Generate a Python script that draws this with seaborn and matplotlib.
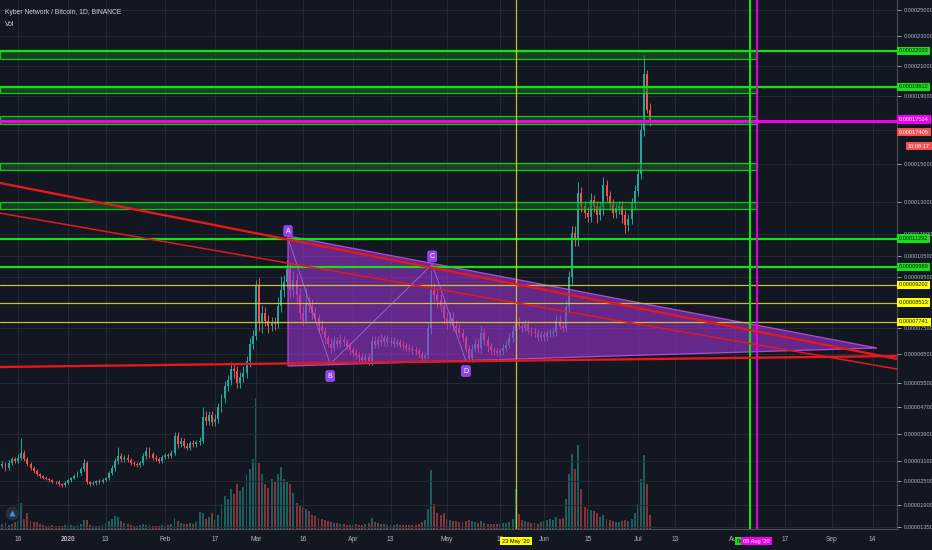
import numpy as np
import pandas as pd
import matplotlib
matplotlib.use("Agg")
import matplotlib.pyplot as plt
import matplotlib.dates as mdates
from matplotlib.colors import to_rgba
from matplotlib.patches import Polygon, Rectangle
import seaborn as sns

# KNC/BTC daily candles, prices in satoshi (1e-8 BTC), first candle 2019-12-10
first_day = "2019-12-10"
first_open = 2900
close = [2950, 3000, 2900, 3050, 3150, 3100, 3200, 3330, 3150, 3000,
         2900, 2800, 2700, 2650, 2600, 2550, 2520, 2480, 2470, 2420,
         2400, 2450, 2520, 2590, 2660, 2750, 2860, 3040, 2470, 2430,
         2460, 2500, 2480, 2540, 2580, 2740, 2900, 3100, 3250, 3150,
         3200, 3130, 3050, 3000, 2980, 3050, 3250, 3400, 3300, 3200,
         3150, 3100, 3220, 3280, 3250, 3350, 3850, 3600, 3700, 3550,
         3500, 3620, 3600, 3650, 3700, 4400, 4300, 4450, 4250, 4350,
         4700, 5000, 5400, 5600, 6000, 5900, 5500, 5700, 5850, 6250,
         6900, 7200, 9200, 7700, 8100, 7800, 7600, 7700, 7650, 8400,
         9000, 9300, 9900, 9000, 9400, 8800, 8100, 7800, 8500, 8400,
         8100, 7900, 7600, 7400, 7100, 6900, 6750, 7000, 6900, 7050,
         6950, 6800, 6650, 6550, 6450, 6400, 6300, 6400, 6250, 7000,
         6850, 7050, 6950, 7100, 6950, 7000, 6900, 6950, 6850, 6800,
         6750, 6700, 6650, 6600, 6500, 6350, 6450, 7500, 9000, 8800,
         8600, 8400, 7900, 7700, 7900, 7600, 7500, 7300, 7100, 6700,
         6350, 6700, 6900, 6750, 7300, 7050, 6800, 6650, 6600, 6550,
         6600, 6750, 6850, 7100, 7400, 7700, 7600, 7500, 7650, 7400,
         7350, 7300, 7150, 7250, 7150, 7300, 7300, 7350, 7800, 7600,
         7500, 8350, 9500, 11550, 11300, 13500, 12800, 12500, 12300, 13100,
         12800, 12400, 12750, 13900, 13300, 12900, 12500, 12700, 12800, 12400,
         11900, 12200, 12950, 13600, 14500, 17000, 20500, 18200, 17405]
# wick length above / below the body, percent
wick_up = [2, 3, 2, 3, 2, 2, 3, 14, 3, 2,
           2, 2, 2, 2, 1, 2, 1, 2, 1, 2,
           1, 2, 2, 1, 2, 2, 2, 4, 2, 1,
           2, 1, 2, 2, 2, 2, 3, 3, 8, 3,
           2, 3, 2, 2, 2, 2, 3, 3, 3, 2,
           2, 2, 2, 2, 2, 2, 3, 3, 3, 2,
           2, 2, 3, 2, 3, 7, 4, 3, 3, 3,
           3, 3, 3, 3, 4, 3, 3, 3, 4, 3,
           3, 3, 2, 3, 4, 3, 3, 3, 3, 4,
           6, 3, 4, 3, 4, 3, 3, 4, 7, 3,
           3, 3, 2, 3, 2, 2, 3, 3, 2, 3,
           2, 2, 2, 2, 2, 2, 2, 2, 2, 3,
           3, 2, 3, 2, 2, 2, 2, 2, 2, 2,
           2, 2, 2, 2, 2, 2, 2, 3, 9, 3,
           3, 3, 3, 3, 3, 3, 3, 2, 2, 2,
           2, 3, 3, 3, 4, 3, 2, 2, 2, 2,
           2, 2, 3, 3, 3, 3, 3, 2, 3, 2,
           2, 2, 2, 2, 2, 2, 2, 2, 3, 3,
           2, 3, 3, 3, 3, 4, 2, 2, 2, 3,
           2, 2, 2, 3, 2, 2, 2, 2, 2, 2,
           2, 2, 2, 2, 2, 3, 6, 1, 2]
wick_dn = [2, 2, 3, 2, 2, 2, 2, 2, 2, 2,
           2, 2, 2, 2, 2, 1, 2, 1, 2, 2,
           2, 2, 1, 2, 1, 2, 2, 2, 2, 2,
           1, 2, 2, 1, 2, 2, 2, 3, 3, 3,
           3, 2, 2, 2, 2, 2, 2, 3, 3, 2,
           2, 2, 2, 2, 2, 2, 2, 3, 2, 2,
           2, 2, 2, 2, 2, 2, 3, 3, 3, 3,
           3, 3, 3, 3, 3, 4, 3, 3, 3, 3,
           3, 3, 2, 4, 5, 3, 4, 3, 3, 2,
           3, 3, 2, 3, 3, 3, 3, 3, 2, 3,
           3, 2, 3, 2, 3, 2, 3, 2, 2, 2,
           2, 2, 2, 2, 2, 2, 2, 2, 2, 2,
           2, 2, 2, 2, 2, 2, 2, 2, 2, 2,
           2, 2, 2, 2, 2, 2, 2, 2, 3, 3,
           3, 3, 3, 3, 2, 3, 3, 2, 2, 2,
           2, 2, 2, 3, 3, 3, 3, 2, 2, 2,
           2, 2, 2, 2, 2, 2, 2, 2, 2, 2,
           2, 2, 2, 2, 2, 2, 2, 2, 2, 2,
           2, 2, 3, 3, 3, 3, 2, 2, 2, 2,
           2, 3, 2, 3, 2, 2, 2, 2, 2, 3,
           3, 2, 2, 2, 2, 2, 2, 1, 1]
volume = [6, 5, 6, 4, 5, 7, 8, 26, 10, 16,
          8, 7, 7, 5, 4, 3, 3, 4, 3, 3,
          3, 4, 3, 4, 3, 4, 5, 9, 9, 4,
          3, 3, 3, 4, 6, 8, 10, 13, 12, 8,
          6, 5, 4, 3, 3, 4, 5, 4, 4, 3,
          3, 3, 4, 3, 4, 5, 11, 8, 6, 5,
          5, 6, 5, 7, 17, 16, 10, 12, 16, 9,
          14, 25, 33, 30, 40, 35, 45, 38, 42, 54,
          60, 70, 131, 66, 55, 45, 41, 50, 47, 55,
          62, 50, 48, 45, 36, 26, 24, 22, 20, 18,
          14, 13, 11, 10, 9, 8, 7, 6, 6, 5,
          5, 4, 4, 4, 5, 4, 4, 5, 6, 11,
          7, 6, 5, 5, 4, 4, 4, 5, 4, 4,
          4, 4, 4, 4, 5, 7, 9, 20, 59, 25,
          16, 14, 16, 10, 9, 8, 8, 7, 7, 8,
          9, 8, 7, 6, 8, 6, 5, 5, 5, 5,
          5, 6, 6, 7, 10, 40, 15, 9, 8, 7,
          6, 6, 5, 7, 8, 9, 10, 9, 12, 10,
          11, 30, 55, 75, 60, 84, 40, 22, 20, 19,
          18, 16, 12, 14, 10, 9, 8, 7, 7, 8,
          9, 8, 10, 16, 25, 50, 74, 45, 14]

# horizontal levels (satoshi)
level_green = [22003, 19612, 11292, 9989]
level_yellow = [9202, 8513, 7741]
level_magenta = 17524
last_price = 17405
countdown = "10:08:17"
zone_low = [21450, 19180, 17335, 14684, 12672]
zone_high = [22003, 19612, 17824, 15059, 13000]
zone_end = "2020-08-08"

# trend lines: start/end date and price
trend_start = ["2019-12-10 06:00", "2019-12-10 06:00", "2019-12-10 06:00"]
trend_end = ["2020-09-21 19:00", "2020-09-21 19:00", "2020-09-21 19:00"]
trend_p0 = [14000, 12480, 6052]
trend_p1 = [6330, 5982, 6431]
trend_width = [1.7, 1.1, 1.7]

# triangle pattern
tri_dates = ["2020-03-11 06:00", "2020-03-11 06:00", "2020-09-15 10:00"]
tri_prices = [11409, 6086, 6730]
abcd_names = ["A", "B", "C", "D"]
abcd_dates = ["2020-03-11 06:00", "2020-03-24 17:00", "2020-04-26 07:00", "2020-05-07 02:00"]
abcd_prices = [11318, 6155, 10100, 6258]

# vertical markers
vline_dates = ["2020-05-23", "2020-08-06", "2020-08-08"]
vline_text = ["23 May '20", "06 Aug '20", "08 Aug '20"]

# x axis
tick_dates = ["2019-12-16", "2020-01-01", "2020-01-13", "2020-02-01", "2020-02-17",
              "2020-03-01", "2020-03-16", "2020-04-01", "2020-04-13", "2020-05-01",
              "2020-05-18", "2020-06-01", "2020-06-15", "2020-07-01", "2020-07-13",
              "2020-08-01", "2020-08-17", "2020-09-01", "2020-09-14"]
tick_text = ["16", "2020", "13", "Feb", "17", "Mar", "16", "Apr", "13", "May",
             "18", "Jun", "15", "Jul", "13", "Aug", "17", "Sep", "14"]

# y axis (labels hidden behind level boxes are left blank)
tick_prices = [1350, 1900, 2500, 3100, 3900, 4700, 5500, 6500, 7500, 8500, 9500,
               10500, 11500, 13000, 15000, 17000, 19000, 21000, 23000, 25000]
hidden_ticks = [8500, 17000]
# price axis calibration (price -> pixel row)
axis_prices = [1300, 1350, 1900, 2500, 3100, 3900, 4700, 5500, 6500, 7500, 8500,
               9500, 10500, 11500, 13000, 15000, 17000, 19000, 21000, 23000, 25000, 25770]
axis_rows = [529, 527, 505, 481, 461, 434, 407, 383, 354, 328, 303,
             277, 256, 234, 202, 164, 130, 96, 66, 36, 10, 0]

BG = "#131722"
GRID = "#252935"
AXIS = "#4c4f5a"
TXT = "#b2b5be"
TEAL = "#26a69a"
RED = "#ef5350"
GREEN = "#14e214"
MAGENTA = "#f000f0"
YELLOW = "#ffff00"
YLINE = "#e0e020"
TREND = "#e3191c"
PURPLE = "#9444e6"
PRICE_FS = 4.1

sns.set_theme(style="dark", rc={
    "figure.facecolor": BG, "axes.facecolor": BG, "axes.edgecolor": AXIS,
    "text.color": TXT, "xtick.color": TXT, "ytick.color": TXT,
})
plt.rcParams["font.family"] = ["Liberation Sans", "DejaVu Sans"]

fig = plt.figure(figsize=(9.32, 5.5), dpi=100)
rect = [0, 21 / 550, 897 / 932, 529 / 550]
ax_vol = fig.add_axes(rect)
ax = fig.add_axes(rect, sharex=ax_vol)
ax.patch.set_alpha(0)
ax_vol.axis("off")

rows_rev = np.array(axis_rows[::-1], float)
prices_rev = np.array(axis_prices[::-1], float)


def to_height(v):
    return 529 - np.interp(v, axis_prices, axis_rows)


def from_height(h):
    return np.interp(529 - np.asarray(h, float), rows_rev, prices_rev)


ax.set_yscale("function", functions=(to_height, from_height))

# candles
dates = pd.date_range(first_day, periods=len(close), freq="D")
xd = mdates.date2num(dates)
c = np.array(close, float)
o = np.r_[first_open, c[:-1]]
top = np.maximum(o, c)
bot = np.minimum(o, c)
hi = top * (1 + np.array(wick_up) / 100)
lo = bot * (1 - np.array(wick_dn) / 100)
colors = np.where(c >= o, TEAL, RED)
ax.vlines(xd, lo, hi, colors=colors, lw=0.7, zorder=3)
ax.bar(xd, np.maximum(top - bot, top * 0.004), bottom=bot, width=0.62,
       color=colors, linewidth=0, zorder=3)

# volume overlay
ax_vol.bar(xd, volume, width=0.62, color=colors, alpha=0.5, linewidth=0)
ax_vol.set_ylim(0, max(volume) * 4.04)

day0 = mdates.date2num(pd.Timestamp("2019-12-16"))
ax.set_xlim(day0 - 5.75, day0 + 280.8)
ax.set_ylim(1300, 25770)
x_left = ax.get_xlim()[0]
zone_x1 = mdates.date2num(pd.Timestamp(zone_end))

# zones
for zl, zh in zip(zone_low, zone_high):
    ax.add_patch(Rectangle((x_left, zl), zone_x1 - x_left, zh - zl,
                           fc=to_rgba("#1c6b25", 0.5), ec=to_rgba(GREEN, 0.85),
                           lw=0.9, zorder=4))

for p in level_green:
    ax.axhline(p, color=GREEN, lw=1.6, zorder=5)
for p in level_yellow:
    ax.axhline(p, color=YLINE, lw=0.9, alpha=0.85, zorder=5)
ax.axhline(level_magenta, color=MAGENTA, lw=2.2, zorder=5)

# vertical markers
vd = mdates.date2num(pd.to_datetime(vline_dates))
ax.axvline(vd[0], color=YLINE, lw=0.9, alpha=0.85, zorder=5)
ax.axvline(vd[1], color=GREEN, lw=1.5, zorder=5)
ax.axvline(vd[2], color=MAGENTA, lw=1.3, zorder=5)

# triangle + ABCD pattern
txd = mdates.date2num(pd.to_datetime(tri_dates))
ax.add_patch(Polygon(list(zip(txd, tri_prices)), closed=True,
                     fc=to_rgba("#9a34d0", 0.6), ec=to_rgba("#c04fe0", 0.9),
                     lw=0.9, zorder=4))
axd = mdates.date2num(pd.to_datetime(abcd_dates))
ax.plot(axd, abcd_prices, color="#b07ae8", lw=0.6, alpha=0.8, zorder=5)
label_offsets = [7, -12, 8, -10]
for name, xv, pv, off in zip(abcd_names, axd, abcd_prices, label_offsets):
    ax.annotate(name, (xv, pv), xytext=(0, off), textcoords="offset pixels",
                ha="center", va="center", fontsize=5, color="white", zorder=9,
                bbox=dict(boxstyle="round,pad=0.35", fc=PURPLE, ec="none"))

# trend lines
for s, e, p0, p1, w in zip(trend_start, trend_end, trend_p0, trend_p1, trend_width):
    seg = pd.DataFrame({"x": mdates.date2num(pd.to_datetime([s, e])), "price": [p0, p1]})
    sns.lineplot(data=seg, x="x", y="price", ax=ax, color=TREND, lw=w,
                 estimator=None, zorder=6)
ax.set_xlabel("")
ax.set_ylabel("")

# axes styling
ax.set_xticks(mdates.date2num(pd.to_datetime(tick_dates)))
ax.set_xticklabels(tick_text)
for lab, t in zip(ax.get_xticklabels(), tick_text):
    if t == "2020":
        lab.set_fontweight("bold")
ax.yaxis.tick_right()
ax.set_yticks(tick_prices)
ax.set_yticklabels(["" if p in hidden_ticks else f"{p / 1e8:.8f}" for p in tick_prices])
ax.tick_params(axis="y", right=True, left=False, length=3, width=0.6, pad=1.5,
               labelsize=PRICE_FS, colors=TXT)
ax.tick_params(axis="x", length=0, pad=5, labelsize=4.8, colors=TXT)
ax.grid(True, color=GRID, lw=0.7)
ax.set_axisbelow(True)
for side in ["top", "left"]:
    ax.spines[side].set_visible(False)
for side in ["right", "bottom"]:
    ax.spines[side].set_color(AXIS)
    ax.spines[side].set_linewidth(0.8)

# price-scale labels
ytx = ax.get_yaxis_transform()


def right_label(price, text, fc, tc, dy=0):
    ax.annotate(text, (1, price), xycoords=ytx, xytext=(2, dy),
                textcoords="offset pixels", ha="left", va="center",
                fontsize=PRICE_FS, color=tc, zorder=10, annotation_clip=False,
                bbox=dict(boxstyle="square,pad=0.3", fc=fc, ec="none"))


for p in level_green:
    right_label(p, f"{p / 1e8:.8f}", GREEN, "#131722")
for p in level_yellow:
    right_label(p, f"{p / 1e8:.8f}", YELLOW, "#131722")
right_label(level_magenta, f"{level_magenta / 1e8:.8f}", MAGENTA, "white", dy=1.5)
right_label(last_price, f"{last_price / 1e8:.8f}", RED, "white", dy=-9)
ax.annotate(countdown, (1, last_price), xycoords=ytx, xytext=(33, -23),
            textcoords="offset pixels", ha="right", va="center", fontsize=PRICE_FS,
            color="white", zorder=10, annotation_clip=False,
            bbox=dict(boxstyle="square,pad=0.3", fc=RED, ec="none"))

# time-scale labels
xtx = ax.get_xaxis_transform()
for xv, t, fc, tc in zip(vd, vline_text, [YELLOW, GREEN, MAGENTA], ["black", "black", "white"]):
    ax.text(xv, -12 / 529, t, transform=xtx, ha="center", va="center", fontsize=4.1,
            color=tc, zorder=10, clip_on=False,
            bbox=dict(boxstyle="square,pad=0.35", fc=fc, ec="none"))

# header and logo
fig.text(5 / 932, 1 - 12 / 550, "Kyber Network / Bitcoin, 1D, BINANCE",
         fontsize=4.9, color="#d1d4dc", va="center")
fig.text(5 / 932, 1 - 24 / 550, "Vol", fontsize=4.9, color="#d1d4dc", va="center")
ax.plot([12 / 897], [16 / 529], marker="o", ms=10, mfc="#2a2e39", mec="none",
        transform=ax.transAxes, clip_on=False, zorder=8)
ax.plot([12 / 897], [16 / 529], marker="^", ms=4.5, mfc="#2b9bf0", mec="none",
        transform=ax.transAxes, clip_on=False, zorder=9)

fig.savefig("out.png", dpi=100, facecolor=BG)
